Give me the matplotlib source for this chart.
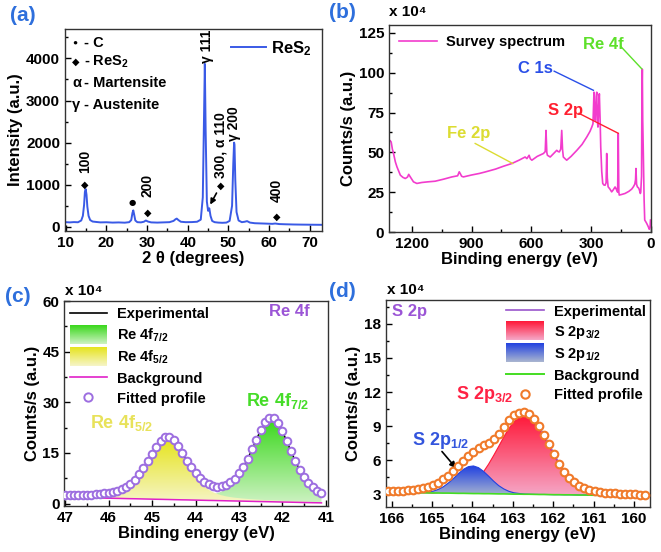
import numpy as np
import matplotlib
matplotlib.use('Agg')
import matplotlib.pyplot as plt
from matplotlib.colors import LinearSegmentedColormap
from matplotlib.legend_handler import HandlerBase
from matplotlib.image import BboxImage
from matplotlib.transforms import Bbox, TransformedBbox
from matplotlib.patches import Patch
from matplotlib.lines import Line2D
from matplotlib.ticker import MultipleLocator

plt.rcParams['font.family'] = ['Liberation Sans', 'DejaVu Sans']
plt.rcParams['font.weight'] = 'bold'
plt.rcParams['axes.labelweight'] = 'bold'
plt.rcParams['mathtext.fontset'] = 'custom'
plt.rcParams['mathtext.rm'] = 'Liberation Sans:bold'
plt.rcParams['mathtext.bf'] = 'Liberation Sans:bold'
plt.rcParams['mathtext.it'] = 'Liberation Sans:bold:italic'
plt.rcParams['mathtext.default'] = 'rm'

# ---- (a) XRD ----
xrd_2theta = [10, 11, 12, 13, 13.8, 14.2, 14.5, 14.7, 14.9, 15.1,
              15.3, 15.6, 16.0, 16.6, 17.5, 18.5, 20, 21.5, 23, 24.5,
              25.6, 26.1, 26.4, 26.6, 26.8, 27.1, 27.6, 28.5, 29.2, 29.7,
              30.2, 31, 32.5, 34, 35.5, 36.5, 37.0, 37.3, 37.7, 38.3,
              39.5, 41, 42.3, 43.2, 43.7, 44.0, 44.2, 44.4, 44.7, 45.0,
              45.3, 45.6, 46.0, 46.6, 47.5, 48.5, 49.5, 50.3, 50.9, 51.2,
              51.4, 51.5, 51.7, 52.0, 52.5, 53.3, 54.0, 54.6, 55.3, 56.5,
              58, 59.5, 60.8, 61.5, 62.5, 64, 66, 68, 70, 72, 73]
xrd_int = [110, 105, 112, 108, 150, 260, 520, 830, 895, 760,
           480, 260, 160, 125, 115, 105, 108, 100, 104, 98,
           110, 160, 330, 390, 300, 150, 110, 105, 120, 150,
           125, 105, 100, 105, 110, 140, 180, 195, 160, 120,
           110, 112, 120, 170, 700, 2600, 3870, 2300, 600, 380,
           440, 260, 140, 110, 100, 95, 100, 140, 500, 1500,
           2000, 1950, 1100, 350, 150, 110, 120, 135, 100, 85,
           80, 75, 70, 78, 65, 60, 55, 52, 50, 48, 47]
# peak markers: (2theta, marker y, label, label y)
peak_pos = [14.7, 30.1, 48.1, 61.9]
peak_mark_y = [1010, 325, 980, 235]
peak_labels = ['100', '200', '300, \u03b1 110', '400']
peak_label_y = [1280, 700, 1150, 590]
c_pos, c_mark_y = 26.4, 580
gamma_pos = [44.7, 51.4]
gamma_labels = ['\u03b3 111', '\u03b3 200']
gamma_label_y = [3900, 2040]

# ---- (b) survey ----
be_survey = [1317, 1310, 1304, 1298, 1292, 1283, 1275, 1258, 1245, 1233,
             1222, 1216, 1208, 1192, 1175, 1150, 1120, 1083, 1040, 999,
             970, 962, 957, 950, 941, 900, 860, 832, 780, 740,
             698, 660, 631, 622, 611, 605, 597, 570, 539, 530,
             526, 522, 519, 505, 490, 472, 465, 459, 452, 447,
             443, 439, 430, 422, 400, 371, 345, 321, 305, 296,
             290, 285, 281, 278, 274, 271, 268, 265, 261, 258,
             254, 251, 246, 241, 235, 229, 224, 221, 218, 214,
             205, 196, 188, 179, 175, 171, 166, 163, 160, 158,
             145, 129, 110, 95, 87, 80, 76, 74, 71, 67,
             60, 57, 52, 50, 46, 44, 42, 40, 37, 33,
             30, 25, 20, 12, 7, 3, 1]
cps_survey = [55.9, 57.5, 56.5, 52.0, 49.2, 44.0, 40.9, 35.7, 34.3, 33.6,
              34.5, 36.2, 34.6, 31.5, 30.5, 31.1, 31.5, 31.9, 33.2, 34.6,
              35.3, 37.8, 36.7, 35.0, 34.6, 35.8, 36.8, 37.7, 39.5, 41.3,
              43.0, 45.2, 47.1, 46.1, 48.2, 46.0, 45.1, 47.5, 49.3, 50.5,
              63.8, 50.0, 48.2, 47.1, 49.0, 51.3, 50.5, 50.3, 52.0, 63.8,
              52.0, 47.1, 46.0, 45.1, 47.5, 51.3, 55.0, 59.7, 63.2, 65.9,
              68.0, 87.8, 72.0, 70.1, 85.0, 87.8, 70.0, 65.9, 80.0, 86.8,
              70.0, 53.4, 38.0, 30.5, 29.5, 29.4, 31.0, 49.3, 34.0, 28.4,
              27.0, 25.2, 26.5, 28.3, 27.5, 26.3, 25.0, 61.8, 25.0, 23.2,
              23.6, 24.2, 25.5, 27.0, 28.4, 30.0, 33.0, 39.9, 30.0, 28.4,
              27.5, 26.5, 24.2, 25.0, 35.0, 85.0, 102.2, 70.0, 49.3, 20.0,
              7.5, 6.5, 5.4, 3.3, 1.7, 3.0, 7.5]

# ---- (c) Re 4f ----
re_be = np.round(np.arange(47.0, 41.05, -0.1), 2)
re_fit = [2.49, 2.51, 2.54, 2.56, 2.60, 2.64, 2.70, 2.78, 2.88, 3.01,
          3.19, 3.45, 3.81, 4.31, 4.99, 5.92, 7.14, 8.66, 10.48, 12.56,
          14.78, 16.90, 18.67, 19.68, 19.70, 18.72, 17.00, 14.91, 12.75, 10.73,
          8.98, 7.55, 6.46, 5.69, 5.24, 5.06, 5.17, 5.57, 6.29, 7.40,
          8.94, 10.90, 13.29, 16.05, 18.98, 21.81, 24.13, 25.43, 25.37, 23.94,
          21.49, 18.55, 15.48, 12.58, 10.03, 7.90, 6.18, 4.85, 3.87, 3.12]
re_bg = [1.90, 1.87, 1.84, 1.81, 1.78, 1.76, 1.73, 1.70, 1.67, 1.64,
         1.61, 1.59, 1.56, 1.53, 1.50, 1.47, 1.45, 1.42, 1.39, 1.36,
         1.33, 1.30, 1.28, 1.25, 1.22, 1.19, 1.16, 1.13, 1.11, 1.08,
         1.05, 1.02, 0.99, 0.96, 0.94, 0.91, 0.88, 0.85, 0.82, 0.79,
         0.77, 0.74, 0.71, 0.68, 0.65, 0.62, 0.60, 0.57, 0.54, 0.51,
         0.48, 0.46, 0.43, 0.40, 0.37, 0.34, 0.31, 0.28, 0.26, 0.23]
re_52 = [0.44, 0.48, 0.53, 0.57, 0.63, 0.69, 0.77, 0.87, 0.98, 1.13,
         1.33, 1.60, 1.97, 2.48, 3.18, 4.12, 5.34, 6.87, 8.70, 10.78,
         13.0, 15.12, 16.87, 17.87, 17.87, 16.87, 15.12, 13.0, 10.78, 8.70,
         6.87, 5.34, 4.12, 3.18, 2.48, 1.97, 1.60, 1.33, 1.13, 0.98,
         0.87, 0.77, 0.69, 0.63, 0.57, 0.53, 0.48, 0.44, 0.41, 0.38,
         0.35, 0.33, 0.31, 0.29, 0.27, 0.26, 0.24, 0.23, 0.22, 0.20]
re_72 = [0.15, 0.16, 0.17, 0.18, 0.19, 0.19, 0.20, 0.21, 0.23, 0.24,
         0.25, 0.26, 0.28, 0.30, 0.31, 0.33, 0.35, 0.37, 0.39, 0.42,
         0.45, 0.48, 0.52, 0.56, 0.61, 0.66, 0.72, 0.78, 0.86, 0.95,
         1.06, 1.19, 1.35, 1.55, 1.82, 2.18, 2.69, 3.39, 4.34, 5.63,
         7.30, 9.39, 11.89, 14.74, 17.76, 20.66, 23.05, 24.42, 24.42, 23.05,
         20.66, 17.76, 14.74, 11.89, 9.39, 7.30, 5.63, 4.34, 3.39, 2.69]

# ---- (d) S 2p ----
s_be = np.round(np.arange(166.1, 159.7, -0.125), 3)
s_fit = [3.28, 3.28, 3.29, 3.31, 3.34, 3.38, 3.43, 3.52, 3.63, 3.80,
         4.02, 4.30, 4.65, 5.05, 5.52, 5.95, 6.38, 6.75, 7.05, 7.30,
         7.55, 7.85, 8.30, 8.95, 9.55, 9.95, 10.18, 10.24, 10.10, 9.65,
         9.00, 8.20, 7.40, 6.55, 5.70, 4.98, 4.45, 4.05, 3.75, 3.55,
         3.40, 3.30, 3.22, 3.15, 3.10, 3.07, 3.04, 3.02, 3.00, 2.98,
         2.97, 2.96]
s_bg = [3.17, 3.16, 3.16, 3.15, 3.15, 3.14, 3.13, 3.13, 3.12, 3.11,
        3.11, 3.10, 3.10, 3.09, 3.08, 3.08, 3.07, 3.06, 3.06, 3.05,
        3.05, 3.04, 3.03, 3.03, 3.02, 3.01, 3.01, 3.00, 3.00, 2.99,
        2.98, 2.98, 2.97, 2.96, 2.96, 2.95, 2.95, 2.94, 2.93, 2.93,
        2.92, 2.91, 2.91, 2.90, 2.90, 2.89, 2.88, 2.88, 2.87, 2.86,
        2.86, 2.85]
s_12 = [0, 0, 0, 0, 0, 0, 0.01, 0.03, 0.08, 0.16,
        0.31, 0.55, 0.88, 1.28, 1.72, 2.11, 2.36, 2.43, 2.28, 1.96,
        1.54, 1.11, 0.73, 0.44, 0.24, 0.12, 0.06, 0.02, 0, 0,
        0, 0, 0, 0, 0, 0, 0, 0, 0, 0,
        0, 0, 0, 0, 0, 0, 0, 0, 0, 0,
        0, 0]
s_32 = [0, 0, 0, 0, 0, 0, 0, 0, 0, 0,
        0.02, 0.04, 0.08, 0.14, 0.24, 0.40, 0.63, 0.95, 1.38, 1.93,
        2.60, 3.37, 4.18, 5.00, 5.75, 6.36, 6.75, 6.90, 6.78, 6.40,
        5.81, 5.07, 4.25, 3.43, 2.66, 1.98, 1.42, 0.98, 0.65, 0.41,
        0.25, 0.15, 0.08, 0.04, 0.02, 0, 0, 0, 0, 0,
        0, 0]

PANEL_BLUE = '#2e6fdc'
TICK_FS = 11
LAB_FS = 12


def grad_fill(ax, x, lo, hi, c_top, c_bot, z):
    x = np.asarray(x, float)
    lo = np.asarray(lo, float)
    hi = np.asarray(hi, float)
    poly = ax.fill_between(x, lo, hi, facecolor='none', edgecolor='none')
    cmap = LinearSegmentedColormap.from_list('g', [c_bot, c_top])
    img = ax.imshow(np.linspace(0, 1, 256).reshape(-1, 1), cmap=cmap,
                    aspect='auto', origin='lower', interpolation='bilinear',
                    extent=[x.min(), x.max(), lo.min(), hi.max()], zorder=z)
    img.set_clip_path(poly.get_paths()[0], ax.transData)


class GradHandler(HandlerBase):
    def __init__(self, c_top, c_bot):
        super().__init__()
        self.cmap = LinearSegmentedColormap.from_list('h', [c_bot, c_top])

    def create_artists(self, legend, orig_handle, xdescent, ydescent,
                       width, height, fontsize, trans):
        bb = TransformedBbox(Bbox.from_bounds(-xdescent, -ydescent - 2, width, height + 4), trans)
        im = BboxImage(bb, cmap=self.cmap, interpolation='bilinear')
        im.set_data(np.linspace(1, 0, 64).reshape(-1, 1))
        im.set_clim(0, 1)
        return [im]


def style(ax):
    ax.tick_params(which='both', direction='in', labelsize=TICK_FS, width=1)
    ax.tick_params(which='major', length=4)
    ax.tick_params(which='minor', length=2.5)
    for sp in ax.spines.values():
        sp.set_linewidth(1)
        sp.set_color('#333333')
    for lab in ax.get_xticklabels() + ax.get_yticklabels():
        lab.set_fontweight('bold')


fig = plt.figure(figsize=(6.61, 5.52), dpi=100)

# ---------------- (a) ----------------
ax = fig.add_axes([0.0983, 0.5815, 0.3887, 0.366])
ax.plot(xrd_2theta, xrd_int, color='#3a5ae6', lw=1.4, label='ReS$_2$')
ax.set_xlim(9.8, 73)
ax.set_ylim(-100, 4700)
ax.xaxis.set_major_locator(MultipleLocator(10))
ax.xaxis.set_minor_locator(MultipleLocator(5))
ax.yaxis.set_major_locator(MultipleLocator(1000))
ax.yaxis.set_minor_locator(MultipleLocator(500))
style(ax)
ax.set_xlabel('2 \u03b8 (degrees)', fontsize=LAB_FS, labelpad=1)
ax.set_ylabel('Intensity (a.u.)', fontsize=LAB_FS, labelpad=2)
sym_font = ['DejaVu Sans']
for xp, my, lb, ly in zip(peak_pos, peak_mark_y, peak_labels, peak_label_y):
    ax.text(xp, my, '\u25c6', ha='center', va='center', fontsize=7, family=sym_font)
    ax.text(xp, ly, lb, rotation=90, ha='center', va='bottom', fontsize=10)
ax.text(c_pos, c_mark_y, '\u25cf', ha='center', va='center', fontsize=6, family=sym_font)
for xp, lb, ly in zip(gamma_pos, gamma_labels, gamma_label_y):
    ax.text(xp, ly, lb, rotation=90, ha='center', va='bottom', fontsize=10)
ax.annotate('', xy=(45.2, 470), xytext=(47.4, 860),
            arrowprops=dict(arrowstyle='-|>', color='black', lw=1.2, mutation_scale=8))
key_sym = ['\u25cf', '\u25c6', '\u03b1', '\u03b3']
key_txt = ['- C', '- ReS$_2$', '- Martensite', '- Austenite']
key_y = [0.932, 0.838, 0.731, 0.624]
key_sz = [6, 7, 10.5, 10.5]
for s, t, yy, fs in zip(key_sym, key_txt, key_y, key_sz):
    ax.text(0.028, yy, s, transform=ax.transAxes, ha='left', va='center',
            fontsize=fs, family=['Liberation Sans', 'DejaVu Sans'])
    ax.text(0.075, yy, t, transform=ax.transAxes, ha='left', va='center', fontsize=10.5)
ax.legend(loc='upper right', frameon=False, fontsize=12, handlelength=2.1,
          handletextpad=0.3, borderaxespad=0.2)
fig.text(0.015, 0.972, '(a)', color=PANEL_BLUE, fontsize=15, ha='left', va='center')

# ---------------- (b) ----------------
ax = fig.add_axes([0.5885, 0.5797, 0.3959, 0.375])
ax.plot(be_survey, cps_survey, color='#f23ccd', lw=1.2, label='Survey spectrum')
ax.set_xlim(1315, 0)
ax.set_ylim(0, 130)
ax.xaxis.set_major_locator(MultipleLocator(300))
ax.xaxis.set_minor_locator(MultipleLocator(150))
ax.yaxis.set_major_locator(MultipleLocator(25))
ax.yaxis.set_minor_locator(MultipleLocator(12.5))
style(ax)
ax.set_xlabel('Binding energy (eV)', fontsize=LAB_FS, labelpad=1)
ax.set_ylabel('Counts/s (a.u.)', fontsize=LAB_FS, labelpad=2)
ax.legend(loc='upper left', frameon=False, fontsize=10.5, handlelength=2.6,
          handletextpad=0.6, borderaxespad=0.3)
b_notes = [('C 1s', '#2a4fe8', (665, 102.5), (485, 101), (288, 89)),
           ('S 2p', '#ff2030', (515, 76.3), (360, 74.5), (163, 62)),
           ('Re 4f', '#5de02a', (340, 117.9), (150, 116.5), (45, 102.5)),
           ('Fe 2p', '#dcdc32', (1024, 61.7), (882, 55.6), (693, 43))]
for txt, col, tp, p0, p1 in b_notes:
    ax.text(tp[0], tp[1], txt, color=col, fontsize=12, ha='left', va='center')
    ax.plot([p0[0], p1[0]], [p0[1], p1[1]], color=col, lw=1)
fig.text(0.5885, 0.978, 'x 10\u2074', fontsize=11, ha='left', va='center')
fig.text(0.498, 0.978, '(b)', color=PANEL_BLUE, fontsize=15, ha='left', va='center')

# ---------------- (c) ----------------
ax = fig.add_axes([0.0973, 0.0833, 0.3989, 0.3714])
re_bg_a = np.array(re_bg)
grad_fill(ax, re_be, re_bg_a, re_bg_a + np.array(re_72), '#3ad81c', '#cdf2c2', 2)
grad_fill(ax, re_be, re_bg_a, re_bg_a + np.array(re_52), '#e6e41e', '#f6f5c8', 3)
ax.plot(re_be, re_fit, color='black', lw=1, zorder=4)
ax.plot(re_be, re_bg, color='#e020c8', lw=1.1, zorder=5)
ax.plot(re_be, re_fit, 'o', ms=5.5, mfc='white', mec='#9d6ee0', mew=1.4, zorder=6)
ax.set_xlim(47.02, 40.95)
ax.set_ylim(-0.7, 60)
ax.xaxis.set_major_locator(MultipleLocator(1))
ax.xaxis.set_minor_locator(MultipleLocator(0.5))
ax.yaxis.set_major_locator(MultipleLocator(15))
ax.yaxis.set_minor_locator(MultipleLocator(7.5))
style(ax)
ax.set_xlabel('Binding energy (eV)', fontsize=LAB_FS, labelpad=1)
ax.set_ylabel('Counts/s (a.u.)', fontsize=LAB_FS, labelpad=2)
h_exp = Line2D([], [], color='black', lw=1.2)
h_72 = Patch()
h_52 = Patch()
h_bg = Line2D([], [], color='#e020c8', lw=1.2)
h_fit = Line2D([], [], ls='none', marker='o', ms=6, mfc='white', mec='#9d6ee0', mew=1.4)
ax.legend([h_exp, h_72, h_52, h_bg, h_fit],
          ['Experimental', 'Re 4f$_{7/2}$', 'Re 4f$_{5/2}$', 'Background', 'Fitted profile'],
          handler_map={h_72: GradHandler('#3ad81c', '#cdf2c2'),
                       h_52: GradHandler('#e6e41e', '#f6f5c8')},
          loc='upper left', frameon=False, fontsize=10.5, handlelength=2.5,
          handleheight=1.0, labelspacing=0.35, handletextpad=0.7,
          borderaxespad=0.2, borderpad=0.2)
ax.text(46.44, 24, 'Re 4f$_{5/2}$', color='#e8e25a', fontsize=13, ha='left', va='center')
ax.text(42.83, 30.4, 'Re 4f$_{7/2}$', color='#45dc28', fontsize=13, ha='left', va='center')
ax.text(42.3, 57, 'Re 4f', color='#9b55d6', fontsize=12, ha='left', va='center')
fig.text(0.0983, 0.473, 'x 10\u2074', fontsize=11, ha='left', va='center')
fig.text(0.008, 0.462, '(c)', color=PANEL_BLUE, fontsize=15, ha='left', va='center')

# ---------------- (d) ----------------
ax = fig.add_axes([0.5835, 0.082, 0.3999, 0.3745])
s_bg_a = np.array(s_bg)
grad_fill(ax, s_be, s_bg_a, s_bg_a + np.array(s_32), '#ff1838', '#f5a8c8', 2)
grad_fill(ax, s_be, s_bg_a, s_bg_a + np.array(s_12), '#2242e0', '#aab6d0', 3)
ax.plot(s_be, s_bg_a + np.array(s_32), color='#ff1838', lw=0.8, zorder=2.5)
ax.plot(s_be, s_bg_a + np.array(s_12), color='#2242e0', lw=0.8, zorder=3.5)
ax.plot(s_be, s_fit, color='#9955cc', lw=1, zorder=4)
ax.plot(s_be, s_bg, color='#44dd22', lw=1.2, zorder=5)
ax.plot(s_be, s_fit, 'o', ms=5.5, mfc='white', mec='#f07a2a', mew=1.5, zorder=6)
ax.set_xlim(166.15, 159.6)
ax.set_ylim(1.9, 20.1)
ax.xaxis.set_major_locator(MultipleLocator(1))
ax.xaxis.set_minor_locator(MultipleLocator(0.5))
ax.yaxis.set_major_locator(MultipleLocator(3))
ax.yaxis.set_minor_locator(MultipleLocator(1.5))
style(ax)
ax.set_xlabel('Binding energy (eV)', fontsize=LAB_FS, labelpad=1)
ax.set_ylabel('Counts/s (a.u.)', fontsize=LAB_FS, labelpad=2)
h_exp = Line2D([], [], color='#9955cc', lw=1.2)
h_32 = Patch()
h_12 = Patch()
h_bg = Line2D([], [], color='#44dd22', lw=1.4)
h_fit = Line2D([], [], ls='none', marker='o', ms=6, mfc='white', mec='#f07a2a', mew=1.5)
ax.legend([h_exp, h_32, h_12, h_bg, h_fit],
          ['Experimental', 'S 2p$_{3/2}$', 'S 2p$_{1/2}$', 'Background', 'Fitted profile'],
          handler_map={h_32: GradHandler('#ff1838', '#f5a8c8'),
                       h_12: GradHandler('#2242e0', '#aab6d0')},
          loc='upper right', frameon=False, fontsize=10.5, handlelength=2.6,
          handleheight=1.0, labelspacing=0.35, handletextpad=0.7,
          borderaxespad=0.1, borderpad=0.2)
ax.text(166.0, 19.1, 'S 2p', color='#9b55d6', fontsize=12, ha='left', va='center')
ax.text(164.4, 11.8, 'S 2p$_{3/2}$', color='#ff2244', fontsize=13, ha='left', va='center')
ax.text(165.5, 7.7, 'S 2p$_{1/2}$', color='#3355dd', fontsize=13, ha='left', va='center')
ax.annotate('', xy=(164.36, 5.1), xytext=(164.8, 6.95),
            arrowprops=dict(arrowstyle='-|>', color='black', lw=1.2, mutation_scale=9))
fig.text(0.5855, 0.475, 'x 10\u2074', fontsize=11, ha='left', va='center')
fig.text(0.498, 0.472, '(d)', color=PANEL_BLUE, fontsize=15, ha='left', va='center')

fig.savefig('out.png', dpi=100)
